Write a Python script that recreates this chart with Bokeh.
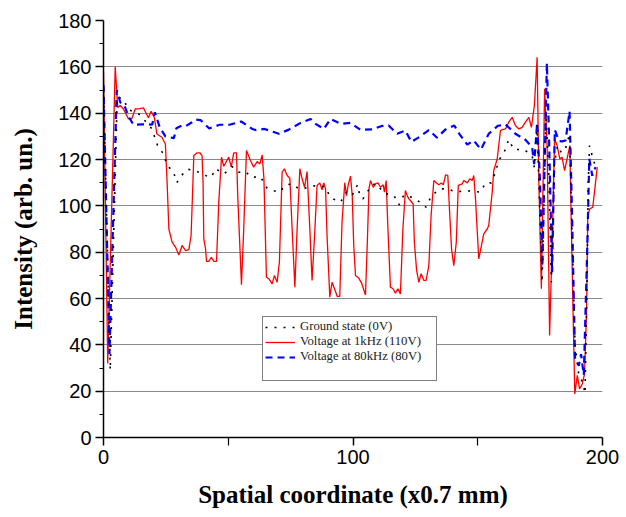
from bokeh.plotting import figure
from bokeh.models import Range1d, FixedTicker, Legend, LegendItem
from bokeh.core.properties import value
from bokeh.embed import file_html
from bokeh.resources import INLINE

# Red: Voltage at 1kHz (110V)
red_x = [0, 1.7, 4.7, 5.7, 6.7, 8, 10, 11.3, 12.7, 14.5, 16, 18, 19.1, 20.4, 21.4, 23.4, 24.8, 25.5, 26.2,
         27.5, 28.9, 30.2, 31.5, 32.9, 34.2, 35.1, 35.8, 36.2, 37.5, 38.6, 39.5, 39.9, 40.2, 40.9, 41.3,
         42.2, 43.2, 44.2, 45.3, 46.2, 47.3, 48.2, 50.2, 51.2, 52.2, 53.3, 53.8, 55.3, 56.2, 57.3, 58.9,
         60.2, 61.6, 62.7, 63.6, 64.3, 65.3, 66.3, 67.6, 68.5, 69.6, 70.5, 71.6, 72.5, 73.6, 74.7, 75.6,
         76.7, 77.6, 78.7, 79.6, 80.6, 81.6, 82.7, 83.6, 84.6, 85.6, 86.7, 87.6, 88.3, 89, 89.6, 90.7,
         91.6, 92.6, 93.7, 94.7, 95.6, 96.7, 97.4, 98.1, 99, 99.7, 100.3, 101, 102.3, 103.5, 105, 105.7,
         106.4, 107, 108.1, 109, 110, 111, 112.1, 112.6, 113.3, 114, 115, 116.1, 117, 118, 119, 120, 121,
         121.7, 122.4, 123, 124.1, 124.6, 125.5, 126.4, 127.3, 128.4, 129.3, 130.4, 131.3, 132.4, 133.5,
         134.4, 135.4, 136.2, 137.1, 138, 138.8, 139.5, 140.4, 141.4, 142.2, 143.8, 144.4, 145.8, 146.8,
         147.8, 148.4, 149.1, 150.4, 151.5, 152.4, 153.8, 154.4, 155.8, 156.4, 157.8, 159.1, 159.8, 161.1,
         162.4, 163.8, 165.1, 166.5, 167.8, 169.1, 170.5, 171.5, 172.7, 173.8, 174.5, 175.5, 176.8, 177.8,
         178.8, 179.8, 180.8, 181.8, 182.9, 183.8, 184.8, 185.8, 186.9, 187.4, 188.2, 188.9, 189.9, 190.8,
         191.9, 192.8, 193.6, 194.1, 194.9, 196.1, 197.9]
red_y = [158, 32, 160, 142.5, 143.3, 141.8, 137.5, 137.5, 141.8, 142, 142.3, 138, 140.8, 138, 131, 129.6,
         126.7, 110, 90, 84.3, 82.1, 78.8, 82.9, 80.7, 81.1, 87.2, 108.8, 121.7, 122.9, 122.9, 121.7, 110.2,
         85.8, 81.4, 76, 76, 77.8, 76, 76, 101.6, 121, 117.1, 121, 116.7, 122.9, 122.9, 104.4, 65.9, 90,
         123.9, 119.6, 116.7, 119.1, 118.1, 122, 111.7, 69.2, 68.5, 66.3, 69.9, 67, 75.7, 114.5, 116, 113.1,
         111.9, 90, 64.9, 90, 116, 111.7, 108, 114.8, 90, 67.8, 87.2, 108.8, 109.9, 106.9, 109.9, 107.3,
         87.2, 60.6, 67, 64.2, 60.9, 60.9, 92.9, 109.9, 104.4, 109.1, 112.8, 104.4, 82.9, 69.9, 68.8, 66.5,
         61.5, 82.9, 107.3, 110.9, 108, 109.5, 109.9, 108, 109.1, 105.9, 110.9, 90, 64.9, 64.2, 62.3, 64.2,
         62, 90, 106.6, 104.4, 103, 102.3, 100.8, 84.3, 72.1, 67, 70.7, 67.8, 67.8, 74.2, 95.8, 110.9, 109.9,
         109.1, 109.9, 109.1, 113.4, 113.1, 95.8, 81.4, 74.2, 84.3, 108.8, 109.5, 110.9, 109.9, 111.7, 110.9,
         113.1, 103, 77.1, 82.9, 87.9, 90, 91.5, 105.9, 115.2, 120.2, 132.5, 132.9, 133.2, 136.1, 138.2,
         134.7, 133.2, 133.9, 136.1, 138.2, 133.9, 143.3, 164.1, 110, 64.2, 150.5, 126, 44, 82.9, 128.9, 126,
         120.3, 121, 115.2, 120.3, 126, 97.2, 54, 18.8, 26.8, 21, 23.1, 27.5, 54, 95.8, 98.7, 99.4, 116.7]

# Blue: Voltage at 80kHz (80V)
blue_x = [0, 2.4, 5.3, 6.7, 8.4, 10, 12, 15.4, 18, 19.5, 20.6, 22.5, 24.8, 28.2, 29.2, 31.5, 33, 35.5, 36.9,
          38.9, 42.4, 46.5, 50.5, 55.2, 59.6, 61, 64.5, 70.3, 74.3, 79, 83, 85, 88.3, 91, 95, 99, 103, 107.7,
          111.5, 114.3, 117.7, 121, 123.4, 126.7, 130.4, 133.7, 137.1, 140.6, 142.6, 145.8, 148.4, 151.3,
          154.4, 158, 161.1, 165.1, 169.1, 171.8, 172.6, 173.8, 174.9, 175.9, 177.7, 178.5, 179.8, 180.9,
          182.5, 183.8, 185.2, 186.8, 187.7, 189, 190.5, 191.4, 192.5, 193.9, 194.7, 195.9, 197.2]
blue_y = [152, 36, 150, 144.7, 143.3, 138.6, 135, 135.2, 135.2, 135, 140.4, 134, 130, 129.2, 133.5, 134.7,
          134.4, 136.1, 137.2, 137, 133.4, 135, 135, 136.4, 133.2, 132.7, 133.2, 131.1, 132.9, 135.8, 137.5,
          135.4, 133.2, 137.5, 135.4, 135.8, 132.8, 133, 134.5, 134.7, 131.1, 132.5, 127.6, 129.8, 132.7,
          129.4, 133, 134.7, 131.1, 126.4, 128.2, 124.3, 131.1, 134.5, 135.2, 131.1, 128.5, 125.3, 118, 135.8,
          112, 74, 161.6, 132.5, 71.3, 132.8, 128, 127.8, 128.2, 140.8, 101, 34, 31, 36, 27, 82, 120.3, 113,
          116.7]

# Black: Ground state (0V)
black_x = [0, 2.7, 5.5, 8, 10, 14, 17.4, 19.4, 21.8, 24.1, 25.5, 28, 29.4, 30.9, 33.7, 37.2, 40.2, 42, 43.2,
           44.9, 48.3, 51.6, 54.1, 56.9, 59.3, 62.9, 65.6, 68, 70.5, 73.3, 75.9, 77.9, 79.9, 83.4, 86.7, 89,
           90.7, 92.6, 95, 97.4, 99.7, 100.6, 101.9, 102.7, 104, 105.7, 107.7, 109.7, 112.1, 116.4, 118.4,
           120.4, 123.7, 126.8, 129.3, 131.3, 134.7, 138, 141.4, 145.1, 148.4, 151.1, 153.1, 155.4, 157.1,
           158.4, 161.1, 162.4, 164.5, 168.5, 171.8, 172.7, 173.7, 174.8, 175.8, 177.3, 178.5, 179.5, 180.7,
           182, 183.5, 185, 186.8, 188, 189, 190.5, 192, 193, 193.7, 194.3, 194.8, 196, 197.2]
black_y = [151, 29, 147, 146, 141.5, 139.8, 135.8, 133.2, 125.6, 122.4, 117.4, 114.8, 110, 112.7, 115.8, 115,
           113.4, 112.6, 112.3, 116, 113.8, 116.9, 114.5, 114.8, 112.3, 112.6, 107.6, 106.6, 105.9, 109.1,
           109.5, 107.6, 107.3, 108.5, 108.8, 108, 104.1, 102.7, 101.6, 105.9, 104.4, 107, 109.1, 104.4, 103,
           105.9, 109.1, 109.5, 105.6, 104.4, 100.4, 104.7, 103.7, 101.6, 99.4, 104.1, 107.3, 107.3, 105.9,
           106.6, 106.2, 105.9, 109.9, 109.9, 114.5, 119.5, 124.3, 128.6, 124.3, 124.3, 121.7, 116.5, 135, 100,
           67, 140, 113, 67, 118, 126, 123, 124, 131, 80, 40, 27, 24, 19, 60, 110, 126, 121, 117]

x_ticks = [0, 100, 200]
x_minor = [50, 150]
y_ticks = [0, 20, 40, 60, 80, 100, 120, 140, 160, 180]
y_minor = [10, 30, 50, 70, 90, 110, 130, 150, 170]
grid_vals = [20, 40, 60, 80, 100, 120, 140, 160]

p = figure(width=624, height=515, output_backend="svg", toolbar_location=None,
           x_range=Range1d(0, 200), y_range=Range1d(0, 180),
           min_border_left=103, min_border_right=22, min_border_top=20, min_border_bottom=78)
p.outline_line_color = None
p.background_fill_color = "white"
p.border_fill_color = "white"

r_red = p.line(red_x, red_y, line_color="#ff0000", line_width=1.3)
r_blue = p.line(blue_x, blue_y, line_color="#0000ff", line_width=2.2, line_dash="7 5")
r_black = p.line(black_x, black_y, line_color="black", line_width=1.6, line_dash="2 7")

p.xaxis.ticker = FixedTicker(ticks=x_ticks, minor_ticks=x_minor)
p.yaxis.ticker = FixedTicker(ticks=y_ticks, minor_ticks=y_minor)
p.xgrid.visible = False
p.ygrid.ticker = FixedTicker(ticks=grid_vals)
p.ygrid.grid_line_color = "#8a8a8a"
p.ygrid.grid_line_width = 1

for ax in (p.xaxis[0], p.yaxis[0]):
    ax.axis_line_color = "black"
    ax.axis_line_width = 1.5
    ax.major_tick_line_color = "black"
    ax.minor_tick_line_color = "black"
    ax.major_tick_line_width = 1.5
    ax.minor_tick_line_width = 1.2
    ax.major_tick_in = 0
    ax.major_tick_out = 8
    ax.minor_tick_in = 0
    ax.major_label_text_font = "Liberation Sans"
    ax.major_label_text_font_size = "20px"
    ax.major_label_text_color = "black"
    ax.major_label_standoff = 4
    ax.axis_label_text_font = "Liberation Serif"
    ax.axis_label_text_font_style = "bold"
    ax.axis_label_text_font_size = "25px"
    ax.axis_label_text_color = "black"

p.xaxis.minor_tick_out = 8
p.yaxis.minor_tick_out = 4
p.xaxis.axis_label = "Spatial coordinate (x0.7 mm)"
p.yaxis.axis_label = "Intensity (arb. un.)"
p.xaxis.axis_label_standoff = 14
p.yaxis.axis_label_standoff = 18

legend = Legend(items=[
    LegendItem(label="Ground state (0V)", renderers=[r_black]),
    LegendItem(label="Voltage at 1kHz (110V)", renderers=[r_red]),
    LegendItem(label="Voltage at 80kHz (80V)", renderers=[r_blue]),
    LegendItem(label=value(" "), renderers=[]),
], location=(159, 56))
legend.label_text_font = "Liberation Serif"
legend.label_text_font_size = "12.7px"
legend.label_text_color = "#222222"
legend.label_height = 14
legend.glyph_height = 14
legend.glyph_width = 30
legend.label_width = 134
legend.spacing = 0
legend.padding = 2
legend.label_standoff = 5
legend.border_line_color = "black"
legend.border_line_width = 1
legend.background_fill_alpha = 1
legend.margin = 0
p.add_layout(legend)

open("out.html", "w").write(file_html(p, INLINE))
